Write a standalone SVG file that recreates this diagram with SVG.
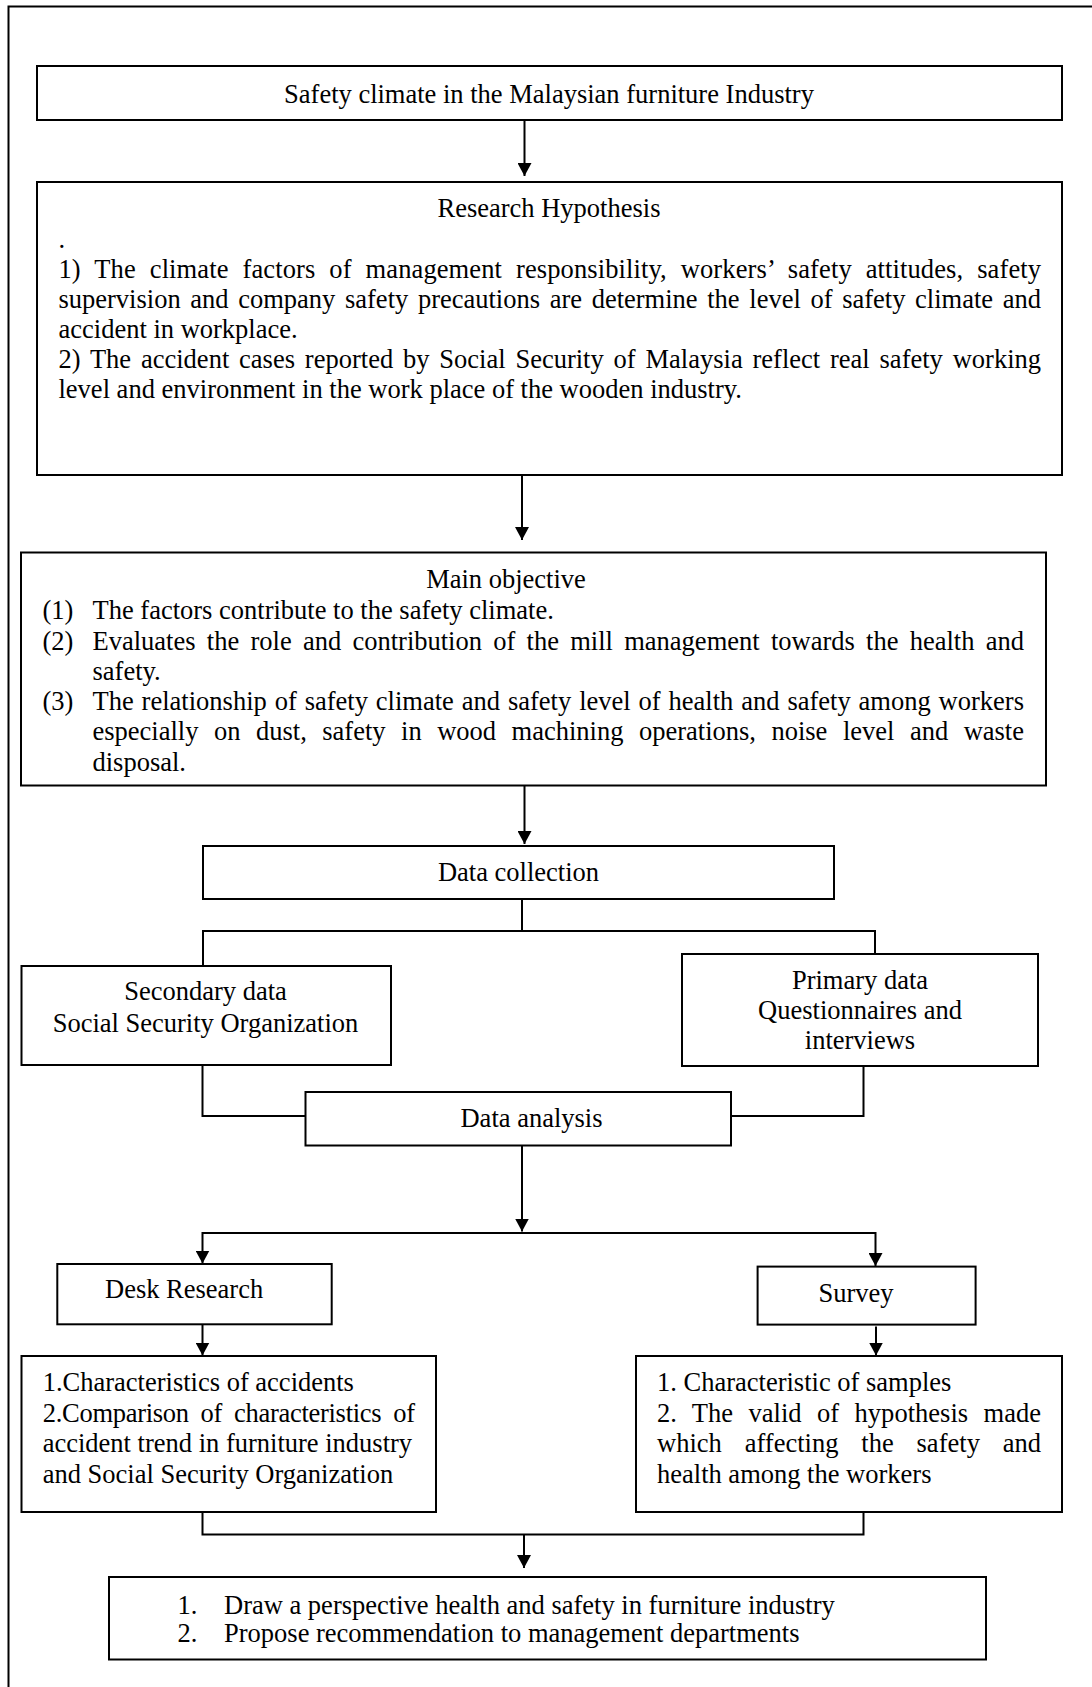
<svg xmlns="http://www.w3.org/2000/svg" width="1092" height="1687" viewBox="0 0 1092 1687">
<defs>
<style>
.box{fill:#fff;stroke:#000;stroke-width:2}
.ln{fill:none;stroke:#000;stroke-width:2}
.t{font-family:"Liberation Serif","Times New Roman",serif;font-size:26.5px;fill:#000}
.c{text-anchor:middle}
</style>
<marker id="ah" markerUnits="userSpaceOnUse" markerWidth="14" markerHeight="14" refX="13" refY="7" orient="auto">
<path d="M0,0 L13,7 L0,14 Z" fill="#000"/>
</marker>
</defs>
<rect width="1092" height="1687" fill="#fff"/>
<path class="ln" d="M8.5,1687 V6.5 H1092"/>

<g id="n-title">
<rect class="box" x="37" y="66" width="1025" height="54"/>
<text class="t c" x="549" y="102.5">Safety climate in the Malaysian furniture Industry</text>
</g>

<g id="n-hypothesis">
<rect class="box" x="37" y="182" width="1025" height="293"/>
<text class="t c" x="549" y="216.7">Research Hypothesis</text>
<text class="t" x="58.5" y="248">.</text>
<text class="t" x="58.5" y="278.3" style="word-spacing:7.25px" textLength="982.5" lengthAdjust="spacing">1) The climate factors of management responsibility, workers’ safety attitudes, safety</text>
<text class="t" x="58.5" y="308.3" style="word-spacing:3.05px" textLength="982.5" lengthAdjust="spacing">supervision and company safety precautions are determine the level of safety climate and</text>
<text class="t" x="58.5" y="338.3">accident in workplace.</text>
<text class="t" x="58.5" y="368.3" style="word-spacing:3.2px" textLength="982.5" lengthAdjust="spacing">2) The accident cases reported by Social Security of Malaysia reflect real safety working</text>
<text class="t" x="58.5" y="398.3">level and environment in the work place of the wooden industry.</text>
</g>

<g id="n-objective">
<rect class="box" x="21" y="552.5" width="1025" height="233"/>
<text class="t c" x="506" y="588">Main objective</text>
<text class="t" x="42.5" y="619">(1)</text>
<text class="t" x="92.5" y="619">The factors contribute to the safety climate.</text>
<text class="t" x="42.5" y="649.5">(2)</text>
<text class="t" x="92.5" y="649.5" style="word-spacing:4.63px" textLength="931.5" lengthAdjust="spacing">Evaluates the role and contribution of the mill management towards the health and</text>
<text class="t" x="92.5" y="679.5">safety.</text>
<text class="t" x="42.5" y="709.5">(3)</text>
<text class="t" x="92.5" y="709.5" style="word-spacing:1.28px" textLength="931.5" lengthAdjust="spacing">The relationship of safety climate and safety level of health and safety among workers</text>
<text class="t" x="92.5" y="740" style="word-spacing:8.87px" textLength="931.5" lengthAdjust="spacing">especially on dust, safety in wood machining operations, noise level and waste</text>
<text class="t" x="92.5" y="770.5">disposal.</text>
</g>

<g id="n-collection">
<rect class="box" x="203" y="846" width="631" height="53"/>
<text class="t c" x="518.5" y="881">Data collection</text>
</g>

<g id="n-secondary">
<rect class="box" x="21.5" y="966" width="369.5" height="99"/>
<text class="t c" x="205.5" y="1000">Secondary data</text>
<text class="t c" x="205.5" y="1031.7">Social Security Organization</text>
</g>

<g id="n-primary">
<rect class="box" x="682" y="954" width="356" height="112"/>
<text class="t c" x="860" y="989">Primary data</text>
<text class="t c" x="860" y="1018.8">Questionnaires and</text>
<text class="t c" x="860" y="1049">interviews</text>
</g>

<g id="n-analysis">
<rect class="box" x="305.5" y="1092" width="425.5" height="53.5"/>
<text class="t c" x="531.5" y="1127">Data analysis</text>
</g>

<g id="n-desk">
<rect class="box" x="57.3" y="1264" width="274.4" height="60.3"/>
<text class="t" x="105" y="1298.3">Desk Research</text>
</g>

<g id="n-survey">
<rect class="box" x="757.6" y="1266.6" width="218" height="58"/>
<text class="t c" x="856" y="1302">Survey</text>
</g>

<g id="n-desk-results">
<rect class="box" x="21.5" y="1356" width="414.5" height="156"/>
<text class="t" x="42.7" y="1390.7">1.Characteristics of accidents</text>
<text class="t" x="42.7" y="1421.5" style="word-spacing:5.5px" textLength="372.3" lengthAdjust="spacing">2.Comparison of characteristics of</text>
<text class="t" x="42.7" y="1451.8">accident trend in furniture industry</text>
<text class="t" x="42.7" y="1482.5">and Social Security Organization</text>
</g>

<g id="n-survey-results">
<rect class="box" x="636" y="1356" width="426" height="156"/>
<text class="t" x="657" y="1390.7">1. Characteristic of samples</text>
<text class="t" x="657" y="1421.5" style="word-spacing:8.8px" textLength="384" lengthAdjust="spacing">2. The valid of hypothesis made</text>
<text class="t" x="657" y="1451.8" style="word-spacing:16.2px" textLength="384" lengthAdjust="spacing">which affecting the safety and</text>
<text class="t" x="657" y="1482.5">health among the workers</text>
</g>

<g id="n-outcome">
<rect class="box" x="109" y="1577" width="877" height="82.5"/>
<text class="t" x="177.6" y="1613.5">1.</text>
<text class="t" x="224" y="1613.5">Draw a perspective health and safety in furniture industry</text>
<text class="t" x="177.6" y="1642">2.</text>
<text class="t" x="224" y="1642">Propose recommendation to management departments</text>
</g>

<g id="connectors">
<path class="ln" d="M524.5,120 V176" marker-end="url(#ah)"/>
<path class="ln" d="M522,475 V540" marker-end="url(#ah)"/>
<path class="ln" d="M524.5,786 V844" marker-end="url(#ah)"/>
<path class="ln" d="M522,899 V931"/>
<path class="ln" d="M203,966 V931 H875 V954"/>
<path class="ln" d="M202.5,1065 V1116 H305.5"/>
<path class="ln" d="M863.5,1066 V1116 H731"/>
<path class="ln" d="M522,1145.5 V1231.5" marker-end="url(#ah)"/>
<path class="ln" d="M522,1233 H202.5 V1263.5" marker-end="url(#ah)"/>
<path class="ln" d="M522,1233 H875.5 V1266" marker-end="url(#ah)"/>
<path class="ln" d="M202.5,1324.3 V1355.5" marker-end="url(#ah)"/>
<path class="ln" d="M876,1326.5 V1355.5" marker-end="url(#ah)"/>
<path class="ln" d="M202.5,1512 V1534.5 H863.5 V1512"/>
<path class="ln" d="M524,1534.5 V1568" marker-end="url(#ah)"/>
</g>
</svg>
